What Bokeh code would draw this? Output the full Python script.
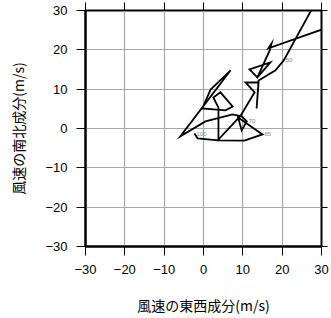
from bokeh.plotting import figure
from bokeh.models import LinearAxis, FixedTicker, Range1d, ColumnDataSource
from bokeh.core.properties import value
from bokeh.embed import file_html
from bokeh.resources import INLINE

# hodograph: east-west (u) and north-south (v) wind components (m/s)
u = [-2.3, -1.5, 3.8, 10.4, 15.0, 8.8, 9.7, 11.0, 9.7, 7.4, 0.5, -5.9, 6.9, 1.8,
     -0.3, 5.6, 7.4, 4.3, 2.5, 3.8, 3.8, 9.4, 13.0, 10.7, 14.0, 13.5, 14.0, 18.3,
     20.4, 29.0, 34.0, 16.5, 17.3, 16.8, 13.7, 11.7, 17.0, 13.7]
v = [-1.3, -2.5, -3.0, -3.1, -1.5, 2.8, -0.5, 1.8, 3.1, 3.6, 1.8, -2.0, 14.8, 9.9,
     5.1, 4.6, 5.6, 9.2, 7.9, 5.3, -2.8, 3.2, 9.2, 11.7, 11.7, 5.1, 12.2, 14.8,
     17.3, 33.0, 26.5, 20.4, 21.6, 19.8, 13.0, 15.0, 16.8, 13.0]

level_text = ["100", "85", "70", "50"]
level_u = [-2.3, 15.0, 11.0, 20.4]
level_v = [-1.3, -1.5, 1.8, 17.3]

tick_values = [-30, -20, -10, 0, 10, 20, 30]
tick_labels = ["\u221230", "\u221220", "\u221210", "0", "10", "20", "30"]

x_title = "風速の東西成分(m/s)"
y_title = "風速の南北成分(m/s)"

p = figure(width=331, height=318, output_backend="svg", toolbar_location=None,
           x_range=Range1d(-30, 30), y_range=Range1d(-30, 30),
           min_border_left=85, min_border_right=10, min_border_top=10,
           min_border_bottom=72, x_axis_label=x_title, y_axis_label=y_title)

p.background_fill_color = "white"
p.border_fill_color = "white"
p.outline_line_color = "black"
p.outline_line_width = 2

overrides = {t: l for t, l in zip(tick_values, tick_labels)}
for ax in (p.xaxis[0], p.yaxis[0]):
    ax.ticker = FixedTicker(ticks=tick_values)
    ax.major_label_overrides = overrides
    ax.major_label_text_font = "Liberation Sans"
    ax.major_label_text_font_size = "13px"
    ax.major_label_text_color = "black"
    ax.axis_line_color = "black"
    ax.axis_line_width = 2
    ax.major_tick_line_color = "black"
    ax.major_tick_line_width = 1
    ax.major_tick_out = 9
    ax.major_tick_in = 0
    ax.minor_tick_line_color = None
    ax.axis_label_text_font = "Noto Sans CJK JP"
    ax.axis_label_text_font_size = "14px"
    ax.axis_label_text_font_style = "normal"
    ax.axis_label_text_color = "black"

p.xaxis[0].major_label_standoff = 9
p.xaxis[0].axis_label_standoff = 18
p.yaxis[0].major_label_standoff = 9
p.yaxis[0].axis_label_standoff = 14

for loc, tick_len in (("above", 8), ("right", 6)):
    ax = LinearAxis(ticker=FixedTicker(ticks=tick_values))
    ax.major_label_text_font_size = "0px"
    ax.major_label_standoff = 0
    ax.axis_line_color = None
    ax.major_tick_line_color = "black"
    ax.major_tick_out = tick_len
    ax.major_tick_in = 0
    ax.minor_tick_line_color = None
    p.add_layout(ax, loc)

for g in (p.xgrid[0], p.ygrid[0]):
    g.ticker = FixedTicker(ticks=tick_values)
    g.grid_line_color = "#a8a8a8"
    g.grid_line_width = 1.2

p.line(u, v, line_color="black", line_width=1.8, line_join="miter")

src = ColumnDataSource(dict(x=level_u, y=level_v, t=level_text))
p.text("x", "y", text="t", source=src, text_font=value("Liberation Sans"),
       text_font_size="6px", text_color="#888888", text_align="left",
       text_baseline="middle", x_offset=2)

open("out.html", "w").write(file_html(p, INLINE))
